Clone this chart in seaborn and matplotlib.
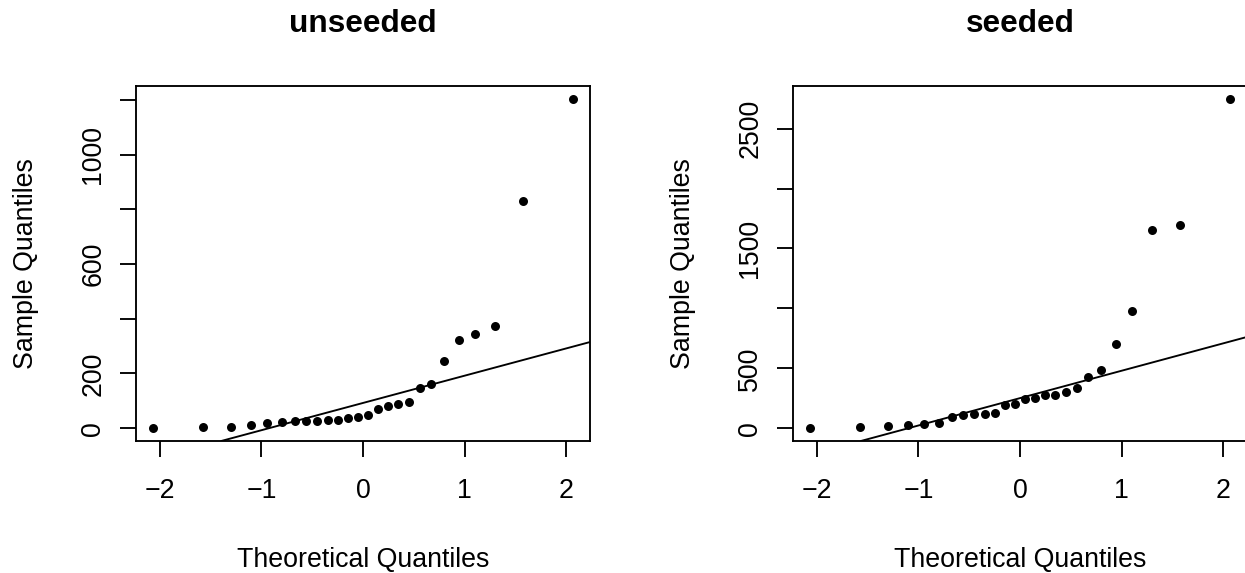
import numpy as np
import pandas as pd
import matplotlib
matplotlib.use("Agg")
import matplotlib.pyplot as plt
import seaborn as sns
from statistics import NormalDist

# ---- data (cloud seeding rainfall) ----
unseeded = [1202.6, 830.1, 372.4, 345.5, 321.2, 244.3, 163.0, 147.8, 95.0, 87.0,
            81.2, 68.5, 47.3, 41.1, 36.6, 29.0, 28.6, 26.3, 26.1, 24.4,
            21.7, 17.3, 11.5, 4.9, 4.9, 1.0]
seeded = [2745.6, 1697.8, 1656.0, 978.0, 703.4, 489.1, 430.0, 334.1, 302.8, 274.7,
          274.7, 255.0, 242.5, 200.7, 198.6, 129.6, 119.0, 118.3, 115.3, 92.4,
          40.6, 32.7, 31.4, 17.5, 7.7, 4.1]
titles = ["unseeded", "seeded"]
x_ticks = [-2, -1, 0, 1, 2]
y_ticks_list = [[0, 200, 400, 600, 800, 1000, 1200],
                [0, 500, 1000, 1500, 2000, 2500]]
y_labels_list = [["0", "200", "", "600", "", "1000", ""],
                 ["0", "500", "", "1500", "", "2500"]]

sns.set_style("ticks")
plt.rcParams["font.family"] = ["Liberation Sans", "DejaVu Sans"]
plt.rcParams["axes.unicode_minus"] = True
plt.rcParams["text.color"] = "black"
plt.rcParams["axes.labelcolor"] = "black"
plt.rcParams["xtick.color"] = "black"
plt.rcParams["ytick.color"] = "black"

W, H = 1245, 573
fig = plt.figure(figsize=(W / 100, H / 100), dpi=100)

nd = NormalDist()


def qq_frame(values):
    y = np.sort(np.asarray(values, dtype=float))
    n = len(y)
    a = 3 / 8 if n <= 10 else 0.5
    p = (np.arange(1, n + 1) - a) / (n + 1 - 2 * a)
    x = np.array([nd.inv_cdf(v) for v in p])
    return pd.DataFrame({"theo": x, "sample": y})


def qq_line(values):
    y = np.percentile(np.asarray(values, dtype=float), [25, 75])
    x = np.array([nd.inv_cdf(0.25), nd.inv_cdf(0.75)])
    slope = (y[1] - y[0]) / (x[1] - x[0])
    icpt = y[0] - slope * x[0]
    return icpt, slope


ax_w, ax_h = 454 / W, 355 / H
bottom = (H - 441) / H
lefts = [136 / W, 793 / W]
FS = 19.3
lw = 1.35

for i, (vals, ttl) in enumerate(zip([unseeded, seeded], titles)):
    ax = fig.add_axes([lefts[i], bottom, ax_w, ax_h])
    df = qq_frame(vals)
    sns.scatterplot(data=df, x="theo", y="sample", color="black", s=42,
                    linewidth=0, ax=ax, zorder=3)
    icpt, slope = qq_line(vals)
    ax.margins(x=0.04, y=0.04)
    ax.autoscale_view()
    xl, yl = ax.get_xlim(), ax.get_ylim()
    ax.axline((0, icpt), slope=slope, color="black", lw=lw, zorder=2)
    ax.set_xlim(xl)
    ax.set_ylim(yl)

    ax.set_xticks(x_ticks)
    ax.set_xticklabels([f"{t}".replace("-", "\u2212") for t in x_ticks])
    ax.set_yticks(y_ticks_list[i])
    ax.set_yticklabels(y_labels_list[i])
    for lab in ax.get_yticklabels():
        lab.set_rotation(90)
        lab.set_va("center")
    ax.tick_params(axis="both", direction="out", length=11.5, width=lw,
                   labelsize=FS, colors="black", labelcolor="black")
    ax.tick_params(axis="x", pad=15)
    ax.tick_params(axis="y", pad=10)
    for sp in ax.spines.values():
        sp.set_visible(True)
        sp.set_linewidth(lw)
        sp.set_color("black")

    ax.set_xlabel("Theoretical Quantiles", fontsize=FS, color="black")
    ax.set_ylabel("Sample Quantiles", fontsize=FS, color="black")
    ax.xaxis.set_label_coords(0.5, -106 / 355)
    ax.xaxis.label.set_va("top")
    ax.yaxis.set_label_coords(-97 / 454, 0.5)
    ax.set_title(ttl, fontsize=22.8, fontweight="bold", y=(441 - 32) / 355,
                 va="baseline", pad=0, color="black")

fig.savefig("out.png", dpi=100)
